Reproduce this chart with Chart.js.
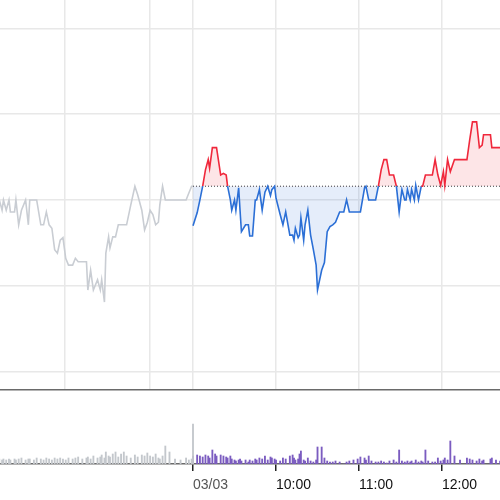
<!DOCTYPE html>
<html><head><meta charset="utf-8">
<script src="https://cdn.jsdelivr.net/npm/chart.js@4"></script>
<style>
html,body{margin:0;padding:0;background:#fff;width:500px;height:500px;overflow:hidden}
#p{position:absolute;left:0;top:0}
#v{position:absolute;left:0;top:391px}
</style></head><body>
<div id="p" style="width:500px;height:391px"><canvas id="pc"></canvas></div>
<div id="v" style="width:500px;height:109px"><canvas id="vc"></canvas></div>
<script>
// minutes relative to 09:00 of 03/03 (negative = previous session)
const prevTimes = [-140,-138,-137,-135,-133,-132,-129,-128,-126,-124,-121,-119,-118,-115,-113,-110,-108,-106,-104,-102,-100,-98,-96,-94,-92,-90,-87,-85,-83,-80,-77,-76,-74,-72,-69,-67,-66,-64,-63,-61,-60,-58,-56,-54,-52,-50,-48,-45,-42,-40,-37,-35,-33,-31,-29,-27,-25,-24,-22,-20,-17,-13,-9,-5,-3,-1,0];
const prevPrices = [100,98.8,100,98.8,100,98.6,98.6,100,97.1,98.8,100,97.1,100,100,100,97.1,97.1,98.6,97.1,96.7,94.2,93.8,95.3,95.6,93.2,92.4,92.4,93.2,92.8,92.8,92.8,89.5,91.8,89.5,90.7,89.5,90.7,88.1,93.8,95.7,94.4,95.7,95.7,97.1,97.1,97.1,97.1,99.4,101.6,100.6,98.8,96.5,97.4,98.8,98.3,97.1,97.4,99.4,101.6,100,100,100,100,100,100.8,101.6,101.6];
const prevVolumes = [5,4,5,4,5,4,5,4,5,6,4,5,5,4,6,5,4,6,5,4,6,5,6,5,4,6,5,6,7,5,6,7,5,8,6,7,9,6,12,8,7,10,12,7,10,12,8,6,9,7,9,8,11,8,7,10,6,5,8,18,12,5,4,6,4,5,40];
const todayTimes = [0,3,5,7,9,11,12,14,16,17,20,22,24,25,27,28,30,31,33,34,35,38,40,41,43,45,46,48,50,52,54,56,57,59,60,63,65,67,70,72,73,74,76,77,78,80,81,83,85,87,89,90,93,95,97,99,101,103,106,109,111,113,116,119,121,124,125,127,129,132,134,136,138,140,142,145,147,149,151,153,154,155,157,158,160,161,163,165,166,168,170,173,175,177,179,181,182,184,186,189,193,198,200,202,205,207,209,210,215,216,219,222];
const todayPrices = [97.0,98.5,100,101.6,103.5,104.7,103.7,106.1,106.1,106.1,102.9,103.1,102.9,101.6,100,98.8,100,98.8,101.4,98.8,96.3,97.1,97.1,95.8,95.8,100,100,101.2,98.8,100.9,101.6,100.5,101.2,101.6,100.2,98.3,97.1,98.6,95.9,95.9,95.3,96.7,95.6,95.9,97.9,95.3,97.1,98.8,95.9,94.2,92.4,89.5,91.8,92.7,96.3,96.9,97.1,97.4,98.6,98.6,100,98.6,98.6,98.6,98.6,101.4,101.6,100,100,100,101.6,103.5,104.7,104.7,102.9,102.9,101.6,98.6,101.2,100,100,101.2,100,101.2,100,101.7,100,101.6,101.6,102.9,102.9,102.9,104.7,102.9,101.7,103.3,101.7,104.7,103.3,104.7,104.7,104.7,107,109.1,109.1,106.1,106.4,107.6,107.6,106.1,106.1,106.1];
const todayVolumes = [8,9,8,7,9,8,6,14,10,8,9,8,7,6,8,5,4,3,4,5,3,4,2,4,3,5,4,6,5,8,4,7,6,5,4,3,6,5,8,9,6,4,5,10,13,4,3,6,3,2,4,17,17,6,3,2,2,3,2,0,2,3,4,5,7,6,4,8,3,2,2,3,2,1,3,4,2,14,3,2,1,3,2,3,1,4,2,3,2,14,3,2,2,6,3,4,6,4,23,8,4,6,5,4,3,5,3,4,5,6,4,3];
const basePrice = 101.6;
const priceTicks = [80,90,100,110,120];
const gridTimes = [-92.5,-31,0,60,120,180];
const labelTimes = [0,60,120,180];
const labelTexts = ['03/03','10:00','11:00','12:00'];
const xMin = -139.5, xMax = 221.9;

const RED='#f0283c', BLUE='#2b6fd6';
const xy=(t,v)=>t.map((x,i)=>({x:x,y:v[i]}));

new Chart(document.getElementById('pc'),{
  type:'line',
  data:{datasets:[
    {data:xy(prevTimes,prevPrices),borderColor:'#c9cdd3',borderWidth:1.6,pointRadius:0,fill:false,tension:0},
    {data:xy(todayTimes,todayPrices),borderWidth:1.6,pointRadius:0,tension:0,borderColor:BLUE,
     segment:{borderColor:c=>((c.p0.parsed.y+c.p1.parsed.y)/2>=basePrice?RED:BLUE)},
     fill:{target:{value:basePrice},above:'rgba(240,40,60,0.12)',below:'rgba(43,111,214,0.12)'}},
    {data:[{x:0,y:basePrice},{x:xMax,y:basePrice}],borderColor:'#333',borderWidth:1,borderDash:[1,2],pointRadius:0,fill:false}
  ]},
  options:{responsive:true,maintainAspectRatio:false,animation:false,
    layout:{padding:0},
    plugins:{legend:{display:false},tooltip:{enabled:false}},
    scales:{
      x:{type:'linear',min:xMin,max:xMax,
        afterBuildTicks:s=>{s.ticks=gridTimes.map(v=>({value:v}));},
        afterFit:s=>{s.height=1;},
        ticks:{display:false},
        grid:{color:'#e8e8e8',lineWidth:1.5,drawTicks:false},
        border:{display:true,color:'#6a6a6a',width:1.5}},
      y:{min:77.85,max:123.3,
        afterBuildTicks:s=>{s.ticks=priceTicks.map(v=>({value:v}));},
        afterFit:s=>{s.width=0;},
        ticks:{display:false},
        grid:{color:'#e8e8e8',lineWidth:1.5,drawTicks:false},
        border:{display:false}}
    }}
});

new Chart(document.getElementById('vc'),{
  type:'bar',
  data:{datasets:[
    {data:xy(prevTimes.slice(0,prevVolumes.length),prevVolumes),backgroundColor:'#c3c7cc',barThickness:1.2,grouped:false},
    {data:xy(todayTimes,todayVolumes),backgroundColor:'#7b5cc0',barThickness:1.2,grouped:false}
  ]},
  options:{responsive:true,maintainAspectRatio:false,animation:false,
    layout:{padding:0},
    plugins:{legend:{display:false},tooltip:{enabled:false}},
    scales:{
      x:{type:'linear',min:xMin,max:xMax,offset:false,
        afterBuildTicks:s=>{s.ticks=labelTimes.map(v=>({value:v}));},
        afterFit:s=>{s.height=36;},
        ticks:{autoSkip:false,maxRotation:0,align:'start',padding:6,
          font:{family:'Liberation Sans',size:14},
          color:c=>(c.index===0?'#555':'#111'),
          callback:(v,i)=>labelTexts[i]},
        grid:{offset:false,drawOnChartArea:false,drawTicks:true,tickLength:7,color:'#222',lineWidth:1.5},
        border:{display:true,color:'#6a6a6a',width:1.5}},
      y:{min:0,max:73,display:false}
    }}
});
</script></body></html>
